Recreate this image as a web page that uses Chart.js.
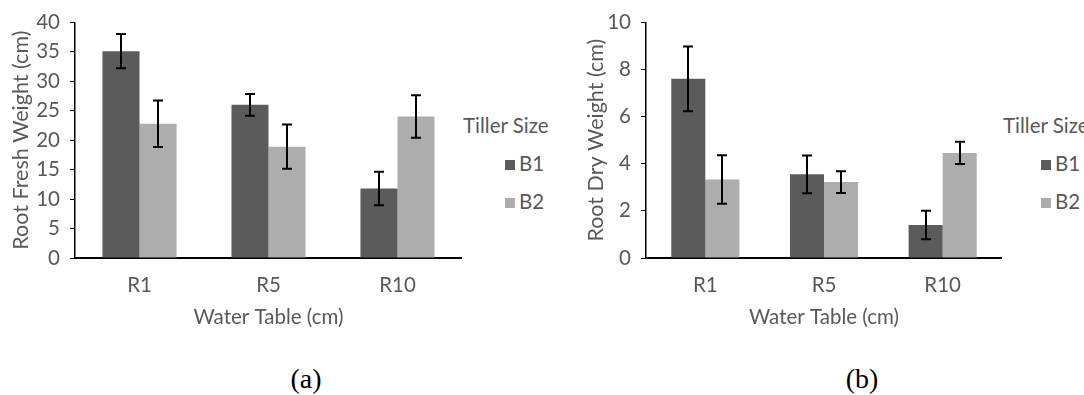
<!DOCTYPE html>
<html>
<head>
<meta charset="utf-8">
<script src="https://cdn.jsdelivr.net/npm/chart.js@4.4.0/dist/chart.umd.min.js"></script>
<style>
  body { margin: 0; background: #fff; width: 1084px; height: 395px; position: relative; overflow: hidden; }
  canvas { position: absolute; top: 0; }
  .legend { position: absolute; font-family: Lato, sans-serif; font-size: 20.5px; color: #595959; }
  .legend .title { position: absolute; left: 0; top: 0; white-space: nowrap; line-height: 22px; }
  .legend .item { position: absolute; white-space: nowrap; line-height: 22px; }
  .legend .box { display: inline-block; width: 10px; height: 10px; margin-right: 4px; vertical-align: 1px; }
  .caption { position: absolute; font-family: "Liberation Serif", "Times New Roman", serif; font-size: 28px; color: #000; transform: translate(-50%, -50%); top: 379px; }
</style>
</head>
<body>
<canvas id="chart-fresh" width="462" height="340" style="left:0px"></canvas>
<canvas id="chart-dry" width="427" height="340" style="left:575px"></canvas>
<div class="legend" id="legend-fresh" style="left:463px; top:114px"></div>
<div class="legend" id="legend-dry" style="left:1003px; top:114px"></div>
<div class="caption" style="left:306px">(a)</div>
<div class="caption" style="left:862px">(b)</div>
<script>
  const categories = ['R1', 'R5', 'R10'];
  const seriesNames = ['B1', 'B2'];
  const seriesColors = ['#5b5b5b', '#adadad'];

  // Root fresh weight (a)
  const freshB1 = [35.1, 26.0, 11.8];
  const freshB1Err = [2.9, 1.85, 2.85];
  const freshB2 = [22.8, 18.9, 24.0];
  const freshB2Err = [3.95, 3.75, 3.6];

  // Root dry weight (b)
  const dryB1 = [7.6, 3.55, 1.4];
  const dryB1Err = [1.37, 0.8, 0.6];
  const dryB2 = [3.33, 3.22, 4.46];
  const dryB2Err = [1.03, 0.46, 0.47];

  const textColor = '#595959';
  const fontFamily = 'Lato, sans-serif';
  const fontSize = 20.5;

  const errorBars = {
    id: 'errorBars',
    afterDatasetsDraw(chart) {
      const { ctx } = chart;
      const yScale = chart.scales.y;
      ctx.save();
      ctx.strokeStyle = '#000';
      ctx.lineWidth = 2;
      chart.data.datasets.forEach((ds, i) => {
        const meta = chart.getDatasetMeta(i);
        meta.data.forEach((bar, j) => {
          const v = ds.data[j];
          const e = ds.errors[j];
          const top = yScale.getPixelForValue(v + e);
          const bottom = yScale.getPixelForValue(v - e);
          const x = Math.round(bar.x);
          ctx.beginPath();
          ctx.moveTo(x, top);
          ctx.lineTo(x, bottom);
          ctx.moveTo(x - 5, top);
          ctx.lineTo(x + 5, top);
          ctx.moveTo(x - 5, bottom);
          ctx.lineTo(x + 5, bottom);
          ctx.stroke();
        });
      });
      ctx.restore();
    },
  };

  function makeChart(id, values, errors, max, step, yTitle, axisWidth) {
    return new Chart(document.getElementById(id), {
      type: 'bar',
      data: {
        labels: categories,
        datasets: values.map((data, i) => ({
          label: seriesNames[i],
          data,
          errors: errors[i],
          backgroundColor: seriesColors[i],
          borderWidth: 0,
          categoryPercentage: 0.574,
          barPercentage: 1,
        })),
      },
      options: {
        responsive: false,
        animation: false,
        devicePixelRatio: 1,
        layout: { padding: { top: 21, right: 0, bottom: 0, left: 0 } },
        plugins: {
          legend: { display: false },
          tooltip: { enabled: false },
        },
        scales: {
          x: {
            grid: { display: false },
            border: { color: '#000', width: 2 },
            ticks: { color: textColor, padding: 7, font: { family: fontFamily, size: fontSize } },
            title: {
              display: true,
              text: 'Water Table (cm)',
              color: textColor,
              padding: { top: 0, bottom: 10 },
              font: { family: fontFamily, size: fontSize },
            },
            afterFit(scale) {
              scale.height = 340 - 258;
            },
          },
          y: {
            min: 0,
            max,
            grid: { drawOnChartArea: false, drawTicks: true, tickLength: 5, color: '#000' },
            border: { color: '#000', width: 1.5 },
            ticks: { stepSize: step, color: textColor, padding: 10, font: { family: fontFamily, size: fontSize } },
            title: {
              display: true,
              text: yTitle,
              color: textColor,
              padding: { top: 8, bottom: 0 },
              font: { family: fontFamily, size: 21.5 },
            },
            afterFit(scale) {
              scale.width = axisWidth;
            },
          },
        },
      },
      plugins: [errorBars],
    });
  }

  function buildLegend(id, itemLeft) {
    const el = document.getElementById(id);
    let html = '<div class="title">Tiller Size</div>';
    seriesNames.forEach((name, i) => {
      html += `<div class="item" style="left:${itemLeft}px; top:${38 + i * 37.5}px">` +
        `<span class="box" style="background:${seriesColors[i]}"></span>${name}</div>`;
    });
    el.innerHTML = html;
  }

  makeChart('chart-fresh', [freshB1, freshB2], [freshB1Err, freshB2Err], 40, 5, 'Root Fresh Weight (cm)', 75);
  makeChart('chart-dry', [dryB1, dryB2], [dryB1Err, dryB2Err], 10, 2, 'Root Dry Weight (cm)', 71);

  buildLegend('legend-fresh', 42);
  buildLegend('legend-dry', 38);
</script>
</body>
</html>
